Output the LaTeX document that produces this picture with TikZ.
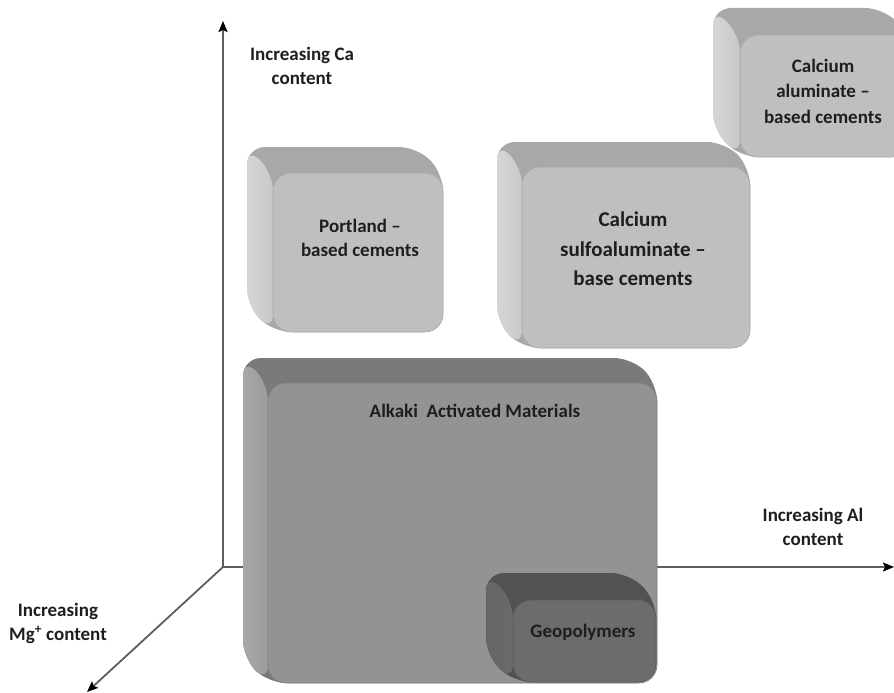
\documentclass[tikz,border=0pt]{standalone}
\usepackage{fontspec}
\setmainfont{Carlito}
\usetikzlibrary{arrows.meta}
\definecolor{axisgray}{HTML}{5E5E5E}
\definecolor{txt}{HTML}{1E1E1E}
\definecolor{lfront}{HTML}{BFBFBF}
\definecolor{ltop}{HTML}{A8A8A8}
\definecolor{lleft}{HTML}{D6D6D6}
\definecolor{mfront}{HTML}{939393}
\definecolor{mtop}{HTML}{7A7A7A}
\definecolor{mleft}{HTML}{A8A8A8}
\definecolor{dfront}{HTML}{6C6C6C}
\definecolor{dtop}{HTML}{525252}
\definecolor{dleft}{HTML}{666666}
% #1 x1, #2 y1, #3 x2, #4 y2 (front face), #5 depth, #6 top colour, #7 left colour, #8 front colour
\newcommand\extrudebox[8]{%
  \fill[#6, rounded corners=18pt]
    (#1-#5,#4-#5) -- (#1-#5,#2-#5) -- (#3-#5,#2-#5) -- (#3,#2) -- (#3,#4) -- (#1,#4) -- cycle;
  \shade[left color=#7, right color=#8!60!#7, rounded corners=18pt]
    (#1-#5,#4-#5) -- (#1-#5,#2-#5) -- (#1,#2) -- (#1,#4) -- cycle;
}
\begin{document}
\begin{tikzpicture}[x=1pt,y=-1pt,
  axis/.style={draw=axisgray, line width=1.8pt, -{Stealth[length=11pt,width=9pt,inset=2pt,color=black]}},
  lbl/.style={text=txt, font=\bfseries\fontsize{19}{24}\selectfont, align=center},
  boxlbl/.style={text=txt, font=\bfseries\fontsize{19}{24}\selectfont, align=center},
  frontface/.style={rounded corners=18pt, inner sep=0pt, line width=0.6pt}]
\useasboundingbox (0,0) rectangle (894,693);
% axes
\coordinate (O) at (223,567);
\coordinate (ytip) at (223,21);
\coordinate (xtip) at (894,567);
\coordinate (ztip) at (87,692);
\draw[axis] (O) -- (ytip);
\draw[axis] (O) -- (xtip);
\draw[axis] (O) -- (ztip);
\node[lbl] (calab) at (302,66) {Increasing Ca\\content};
\node[lbl] (allab) at (813,527) {Increasing Al\\content};
\node[lbl] (mglab) at (58,623) {Increasing\\Mg\textsuperscript{+} content};
% Calcium aluminate
\extrudebox{740}{35}{910}{157}{27}{ltop}{lleft}{lfront}
\node[frontface, fill=lfront, draw=lfront!88!black, minimum width=170pt, minimum height=122pt] (ca) at (825,96) {};
\node[boxlbl, font=\bfseries\fontsize{19}{25.5}\selectfont] (calbl) at (823,91) {Calcium\\aluminate –\\based cements};
% Portland
\extrudebox{273}{173}{443}{332}{26}{ltop}{lleft}{lfront}
\node[frontface, fill=lfront, draw=lfront!88!black, minimum width=170pt, minimum height=159pt] (portland) at (358,252.5) {};
\node[boxlbl] (portlbl) at (360,238) {Portland –\\based cements};
% Calcium sulfoaluminate
\extrudebox{522}{167}{750}{348}{25}{ltop}{lleft}{lfront}
\node[frontface, fill=lfront, draw=lfront!88!black, minimum width=228pt, minimum height=181pt] (csa) at (636,257.5) {};
\node[boxlbl, font=\bfseries\fontsize{21}{29.5}\selectfont] (csalbl) at (633,249) {Calcium\\sulfoaluminate –\\base cements};
% Alkali activated materials
\extrudebox{268}{383}{657}{683}{25}{mtop}{mleft}{mfront}
\node[frontface, fill=mfront, draw=mfront!88!black, minimum width=389pt, minimum height=300pt] (aam) at (462.5,533) {};
\node[lbl] (aamlbl) at (475,411) {Alkaki \ Activated Materials};
% Geopolymers
\extrudebox{513}{600}{656}{682}{27}{dtop}{dleft}{dfront}
\node[frontface, fill=dfront, draw=dfront!85!black, minimum width=143pt, minimum height=82pt] (geo) at (584.5,641) {};
\node[lbl] (geolbl) at (583,632) {Geopolymers};
\end{tikzpicture}
\end{document}
